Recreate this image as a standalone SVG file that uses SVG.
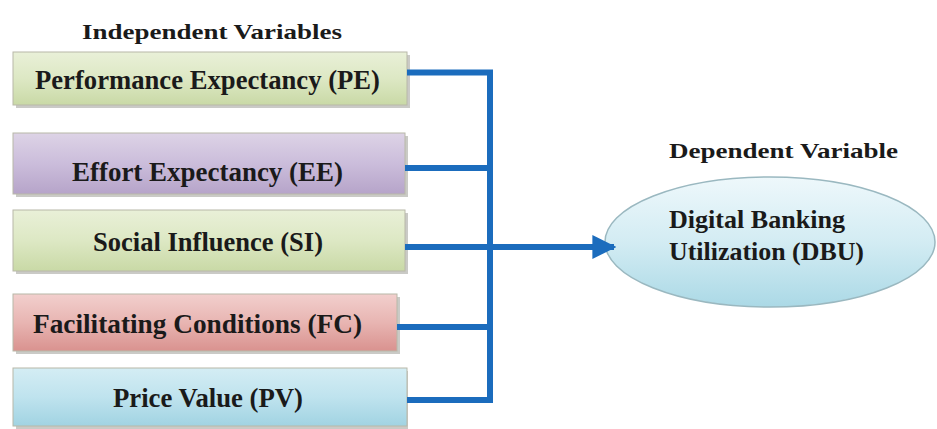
<svg xmlns="http://www.w3.org/2000/svg" width="937" height="429" viewBox="0 0 937 429">
<defs>
<linearGradient id="gGreen" x1="0" y1="0" x2="0" y2="1"><stop offset="0" stop-color="#e9f0d8"/><stop offset="0.5" stop-color="#dde8c4"/><stop offset="1" stop-color="#c9d9a6"/></linearGradient>
<linearGradient id="gPurple" x1="0" y1="0" x2="0" y2="1"><stop offset="0" stop-color="#ddd3e6"/><stop offset="0.5" stop-color="#cbbddb"/><stop offset="1" stop-color="#b6a4c9"/></linearGradient>
<linearGradient id="gRed" x1="0" y1="0" x2="0" y2="1"><stop offset="0" stop-color="#f2cfcd"/><stop offset="0.5" stop-color="#e8b5b2"/><stop offset="1" stop-color="#d9928f"/></linearGradient>
<linearGradient id="gBlue" x1="0" y1="0" x2="0" y2="1"><stop offset="0" stop-color="#d4edf4"/><stop offset="0.5" stop-color="#bfe3ee"/><stop offset="1" stop-color="#a1d3e2"/></linearGradient>
<linearGradient id="gEll" x1="0" y1="0" x2="0" y2="1"><stop offset="0" stop-color="#eef8fb"/><stop offset="0.5" stop-color="#d3ecf3"/><stop offset="1" stop-color="#abd9e6"/></linearGradient>
<marker id="arrow" viewBox="0 0 10 10" refX="9" refY="5" markerWidth="4" markerHeight="4" orient="auto" markerUnits="strokeWidth"><path d="M0,0 L10,5 L0,10 z" fill="#1b6cbd"/></marker>
</defs>
<style>
.box{stroke:#b8b8a8;stroke-width:1}
.shadow{fill:#8a8a80;opacity:0.45}
.lbl{font-family:"Liberation Serif",serif;font-weight:bold;fill:#1a1a1a}
.conn{fill:none;stroke:#1b6cbd;stroke-width:6}
</style>
<rect width="937" height="429" fill="#ffffff"/>
<text class="lbl" x="82" y="39" font-size="22" textLength="260" lengthAdjust="spacingAndGlyphs">Independent  Variables</text>
<g id="pe">
<rect class="shadow" x="16" y="55" width="394" height="53"/>
<rect class="box" x="13" y="52" width="394" height="53" fill="url(#gGreen)"/>
<text class="lbl" x="35" y="89" font-size="27" textLength="345" lengthAdjust="spacingAndGlyphs">Performance Expectancy (PE)</text>
</g>
<g id="ee">
<rect class="shadow" x="16" y="136" width="392" height="61"/>
<rect class="box" x="13" y="133" width="392" height="61" fill="url(#gPurple)"/>
<text class="lbl" x="72" y="181" font-size="27" textLength="271" lengthAdjust="spacingAndGlyphs">Effort Expectancy (EE)</text>
</g>
<g id="si">
<rect class="shadow" x="16" y="213" width="392" height="61"/>
<rect class="box" x="13" y="210" width="392" height="61" fill="url(#gGreen)"/>
<text class="lbl" x="93" y="251" font-size="27" textLength="230" lengthAdjust="spacingAndGlyphs">Social Influence (SI)</text>
</g>
<g id="fc">
<rect class="shadow" x="16" y="297" width="384" height="57"/>
<rect class="box" x="13" y="294" width="384" height="57" fill="url(#gRed)"/>
<text class="lbl" x="33" y="333" font-size="27" textLength="329" lengthAdjust="spacingAndGlyphs">Facilitating Conditions (FC)</text>
</g>
<g id="pv">
<rect class="shadow" x="16" y="371" width="392" height="58"/>
<rect class="box" x="13" y="368" width="394" height="58" fill="url(#gBlue)"/>
<text class="lbl" x="113" y="407" font-size="27" textLength="190" lengthAdjust="spacingAndGlyphs">Price Value (PV)</text>
</g>
<g id="dbu">
<text class="lbl" x="669" y="158" font-size="22" textLength="229" lengthAdjust="spacingAndGlyphs">Dependent  Variable</text>
<ellipse cx="770" cy="242" rx="165" ry="65" fill="url(#gEll)" stroke="#9ab8c0" stroke-width="1.5"/>
<text class="lbl" x="669" y="228" font-size="25" textLength="176" lengthAdjust="spacingAndGlyphs">Digital Banking</text>
<text class="lbl" x="669" y="260" font-size="25" textLength="195" lengthAdjust="spacingAndGlyphs">Utilization (DBU)</text>
</g>
<g id="connectors">
<path class="conn" d="M407,72.5 H490 V400 H407"/>
<path class="conn" d="M405,168 H490"/>
<path class="conn" d="M405,247 H490"/>
<path class="conn" d="M397,327 H490"/>
<path class="conn" d="M490,247 H614" marker-end="url(#arrow)"/>
</g>
</svg>
